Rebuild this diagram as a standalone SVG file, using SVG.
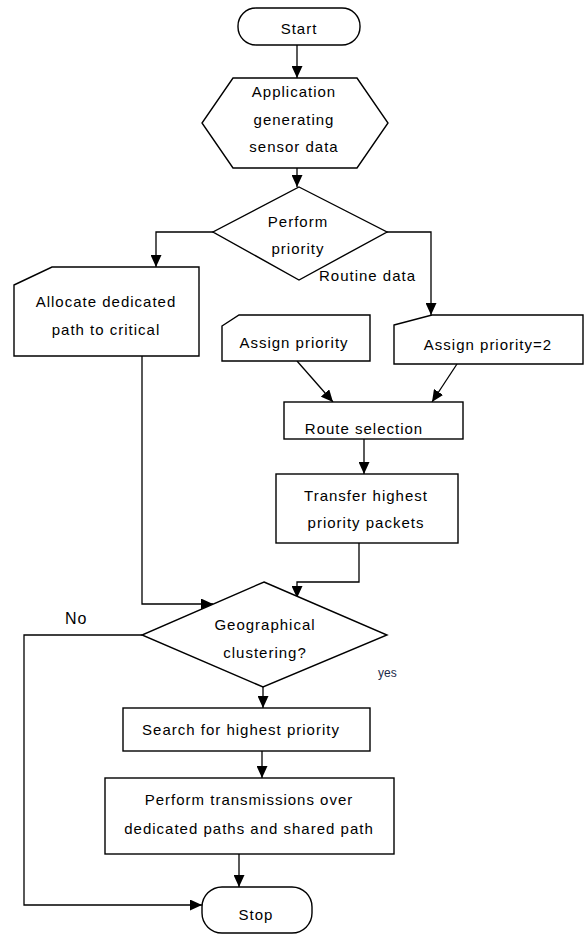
<svg xmlns="http://www.w3.org/2000/svg" width="586" height="935" viewBox="0 0 586 935">
<style>
.s{fill:#fff;stroke:#000;stroke-width:1.4}
.c{fill:none;stroke:#000;stroke-width:1.3}
text{font-family:"Liberation Sans",Arial,sans-serif;font-size:15px;fill:#000;letter-spacing:1px}
.m{text-anchor:middle}
</style>
<defs>
<marker id="ah" markerUnits="userSpaceOnUse" markerWidth="12" markerHeight="11" refX="12" refY="5.5" orient="auto">
<path d="M0,0 L12,5.5 L0,11 z" fill="#000"/>
</marker>
</defs>
<rect width="586" height="935" fill="#fff"/>
<g id="connectors">
<path class="c" d="M297,45 V78" marker-end="url(#ah)"/>
<path class="c" d="M297,168 V187" marker-end="url(#ah)"/>
<path class="c" d="M213,232 H156 V267" marker-end="url(#ah)"/>
<path class="c" d="M387,232 H431 V315" marker-end="url(#ah)"/>
<path class="c" d="M297,361 L333,402" marker-end="url(#ah)"/>
<path class="c" d="M457,364 L432,402" marker-end="url(#ah)"/>
<path class="c" d="M364,439 V474" marker-end="url(#ah)"/>
<path class="c" d="M359,543 V582 H297 V598" marker-end="url(#ah)"/>
<path class="c" d="M142,356 V604 H213" marker-end="url(#ah)"/>
<path class="c" d="M263,687 V708" marker-end="url(#ah)"/>
<path class="c" d="M262,751 V778" marker-end="url(#ah)"/>
<path class="c" d="M239,854 V887" marker-end="url(#ah)"/>
<path class="c" d="M142,635 H24 V905 H202" marker-end="url(#ah)"/>
</g>
<g id="start">
<rect class="s" x="238" y="8" width="122" height="37" rx="18"/>
<text class="m" x="299" y="34">Start</text>
</g>
<g id="app">
<polygon class="s" points="233,78 357,78 388,123 357,168 233,168 202,123"/>
<text class="m" x="294" y="97">Application</text>
<text class="m" x="294" y="125">generating</text>
<text class="m" x="294" y="152">sensor data</text>
</g>
<g id="perform-priority">
<polygon class="s" points="299,187 387,232 299,280 213,232"/>
<text class="m" x="298" y="227">Perform</text>
<text class="m" x="298" y="254">priority</text>
</g>
<g id="routine-label">
<text x="319" y="281">Routine data</text>
</g>
<g id="allocate">
<polygon class="s" points="14,285 52,267 199,267 199,356 14,356"/>
<text class="m" x="106" y="307">Allocate dedicated</text>
<text class="m" x="106" y="335">path to critical</text>
</g>
<g id="assign">
<polygon class="s" points="222,326 239,315 370,315 370,361 222,361"/>
<text class="m" x="294" y="348">Assign priority</text>
</g>
<g id="assign2">
<polygon class="s" points="394,325 432,315 583,315 583,364 394,364"/>
<text class="m" x="488" y="350">Assign priority=2</text>
</g>
<g id="route">
<rect class="s" x="284" y="402" width="179" height="37"/>
<text class="m" x="364" y="434">Route selection</text>
</g>
<g id="transfer">
<rect class="s" x="276" y="474" width="182" height="69"/>
<text class="m" x="366" y="501">Transfer highest</text>
<text class="m" x="366" y="528">priority packets</text>
</g>
<g id="geo">
<polygon class="s" points="264,582 387,635 263,687 142,635"/>
<text class="m" x="265" y="630">Geographical</text>
<text class="m" x="265" y="658">clustering?</text>
</g>
<g id="labels">
<text x="65" y="624" style="font-size:16px">No</text>
<text x="378" y="677" style="font-size:12px;fill:#1c2a4a;letter-spacing:0">yes</text>
</g>
<g id="search">
<rect class="s" x="123" y="708" width="247" height="43"/>
<text class="m" x="241" y="735">Search for highest priority</text>
</g>
<g id="perform-tx">
<rect class="s" x="105" y="778" width="289" height="76"/>
<text class="m" x="249" y="805">Perform transmissions over</text>
<text class="m" x="249" y="834">dedicated paths and shared path</text>
</g>
<g id="stop">
<rect class="s" x="202" y="887" width="110" height="46" rx="20"/>
<text class="m" x="256" y="920">Stop</text>
</g>
</svg>
